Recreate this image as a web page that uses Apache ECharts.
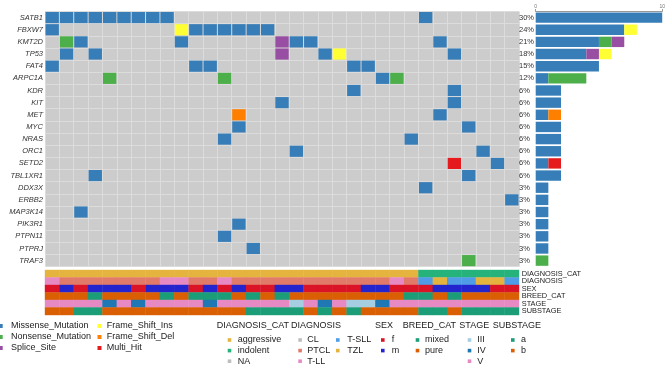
<!DOCTYPE html>
<html>
<head>
<meta charset="utf-8">
<script src="https://cdn.jsdelivr.net/npm/echarts@6/dist/echarts.min.js"></script>
<style>
  html, body { margin: 0; padding: 0; background: #fff; }
  #chart { width: 668px; height: 365px; }
</style>
</head>
<body>
<div id="chart"></div>
<script>
// oncoplot: 21 genes x 33 samples, mutation counts bar on the right, clinical tracks below

const genes = ["SATB1", "FBXW7", "KMT2D", "TP53", "FAT4", "ARPC1A", "KDR", "KIT", "MET", "MYC",
  "NRAS", "ORC1", "SETD2", "TBL1XR1", "DDX3X", "ERBB2", "MAP3K14", "PIK3R1", "PTPN11", "PTPRJ", "TRAF3"];
const samples = ["S01", "S02", "S03", "S04", "S05", "S06", "S07", "S08", "S09", "S10", "S11",
  "S12", "S13", "S14", "S15", "S16", "S17", "S18", "S19", "S20", "S21", "S22",
  "S23", "S24", "S25", "S26", "S27", "S28", "S29", "S30", "S31", "S32", "S33"];

const mutationTypes = ["Missense_Mutation", "Nonsense_Mutation", "Splice_Site",
  "Frame_Shift_Ins", "Frame_Shift_Del", "Multi_Hit"];
const mutationColors = ["#377EB8", "#4DAF4A", "#984EA3", "#FFFF33", "#FF7F00", "#E41A1C"];

const MS = "Missense_Mutation", NS = "Nonsense_Mutation", SP = "Splice_Site";
const FI = "Frame_Shift_Ins", FD = "Frame_Shift_Del", MH = "Multi_Hit";

// [gene, sample index, variant type]
const mutationCells = [
  ["SATB1", 0, MS], ["SATB1", 1, MS], ["SATB1", 2, MS], ["SATB1", 3, MS], ["SATB1", 4, MS],
  ["SATB1", 5, MS], ["SATB1", 6, MS], ["SATB1", 7, MS], ["SATB1", 8, MS], ["SATB1", 26, MS],
  ["FBXW7", 0, MS], ["FBXW7", 9, FI], ["FBXW7", 10, MS], ["FBXW7", 11, MS], ["FBXW7", 12, MS],
  ["FBXW7", 13, MS], ["FBXW7", 14, MS], ["FBXW7", 15, MS],
  ["KMT2D", 1, NS], ["KMT2D", 2, MS], ["KMT2D", 9, MS], ["KMT2D", 16, SP], ["KMT2D", 17, MS],
  ["KMT2D", 18, MS], ["KMT2D", 27, MS],
  ["TP53", 1, MS], ["TP53", 3, MS], ["TP53", 16, SP], ["TP53", 19, MS], ["TP53", 20, FI], ["TP53", 28, MS],
  ["FAT4", 0, MS], ["FAT4", 10, MS], ["FAT4", 11, MS], ["FAT4", 21, MS], ["FAT4", 22, MS],
  ["ARPC1A", 4, NS], ["ARPC1A", 12, NS], ["ARPC1A", 23, MS], ["ARPC1A", 24, NS],
  ["KDR", 21, MS], ["KDR", 28, MS],
  ["KIT", 16, MS], ["KIT", 28, MS],
  ["MET", 13, FD], ["MET", 27, MS],
  ["MYC", 13, MS], ["MYC", 29, MS],
  ["NRAS", 12, MS], ["NRAS", 25, MS],
  ["ORC1", 17, MS], ["ORC1", 30, MS],
  ["SETD2", 28, MH], ["SETD2", 31, MS],
  ["TBL1XR1", 3, MS], ["TBL1XR1", 29, MS],
  ["DDX3X", 26, MS],
  ["ERBB2", 32, MS],
  ["MAP3K14", 2, MS],
  ["PIK3R1", 13, MS],
  ["PTPN11", 12, MS],
  ["PTPRJ", 14, MS],
  ["TRAF3", 29, NS]
];

// clinical annotation tracks, one value per sample
const trackNames = ["DIAGNOSIS_CAT", "DIAGNOSIS", "SEX", "BREED_CAT", "STAGE", "SUBSTAGE"];

const diagnosisCat = ["aggressive", "aggressive", "aggressive", "aggressive", "aggressive", "aggressive",
  "aggressive", "aggressive", "aggressive", "aggressive", "aggressive", "aggressive", "aggressive",
  "aggressive", "aggressive", "aggressive", "aggressive", "aggressive", "aggressive", "aggressive",
  "aggressive", "aggressive", "aggressive", "aggressive", "aggressive", "aggressive",
  "indolent", "indolent", "indolent", "indolent", "indolent", "indolent", "indolent"];
const diagnosis = ["T-LL", "PTCL", "PTCL", "PTCL", "PTCL", "PTCL", "PTCL", "PTCL", "T-LL", "T-LL",
  "PTCL", "PTCL", "T-LL", "PTCL", "PTCL", "PTCL", "PTCL", "PTCL", "PTCL", "PTCL", "PTCL", "PTCL",
  "PTCL", "PTCL", "T-LL", "PTCL", "T-SLL", "TZL", "T-SLL", "T-SLL", "TZL", "TZL", "T-SLL"];
const sex = ["f", "m", "f", "m", "m", "m", "f", "m", "m", "m", "f", "m", "f", "m", "f", "f", "m",
  "m", "f", "f", "f", "f", "m", "m", "f", "f", "f", "m", "m", "m", "m", "f", "f"];
const breedCat = ["pure", "pure", "pure", "mixed", "pure", "pure", "pure", "pure", "mixed", "pure",
  "mixed", "mixed", "mixed", "pure", "mixed", "pure", "mixed", "pure", "pure", "pure", "pure", "pure",
  "pure", "pure", "pure", "mixed", "mixed", "pure", "mixed", "pure", "pure", "pure", "pure"];
const stage = ["V", "V", "V", "V", "IV", "V", "IV", "V", "V", "V", "V", "IV", "V", "V", "V", "V", "V",
  "III", "V", "IV", "V", "III", "III", "IV", "V", "V", "V", "V", "V", "V", "V", "V", "V"];
const substage = ["b", "b", "a", "a", "b", "b", "b", "b", "b", "b", "b", "b", "b", "b", "a", "a", "a",
  "a", "b", "a", "b", "a", "b", "b", "b", "b", "a", "a", "b", "a", "a", "a", "a"];

const diagnosisCatLevels = ["aggressive", "indolent", "NA"];
const diagnosisCatColors = ["#E5B43F", "#25B27B", "#BEBEBE"];
const diagnosisLevels = ["CL", "PTCL", "T-LL", "T-SLL", "TZL"];
const diagnosisColors = ["#BEBEBE", "#E27A69", "#E78AC3", "#4F9DE6", "#E5B43F"];
const sexLevels = ["f", "m"];
const sexColors = ["#DA1426", "#2424CE"];
const breedCatLevels = ["mixed", "pure"];
const breedCatColors = ["#1B9E77", "#D95F02"];
const stageLevels = ["III", "IV", "V"];
const stageColors = ["#A6CEE3", "#1F78B4", "#E78AC3"];
const substageLevels = ["a", "b"];
const substageColors = ["#1B9E77", "#D95F02"];

const tracks = [
  [diagnosisCat, diagnosisCatLevels, diagnosisCatColors],
  [diagnosis, diagnosisLevels, diagnosisColors],
  [sex, sexLevels, sexColors],
  [breedCat, breedCatLevels, breedCatColors],
  [stage, stageLevels, stageColors],
  [substage, substageLevels, substageColors]
];

const FONT = "Liberation Sans, Arial, Helvetica, sans-serif";

// ---- derived data ----
const matrixData = mutationCells.map(([g, s, t]) =>
  [s, genes.indexOf(g), mutationTypes.indexOf(t)]);

const perGene = genes.map(g => mutationCells.filter(c => c[0] === g).length);

const barSeries = mutationTypes.map((t, ti) => ({
  name: t,
  type: "bar",
  stack: "count",
  xAxisIndex: 1,
  yAxisIndex: 1,
  barWidth: 10.4,
  itemStyle: { color: mutationColors[ti] },
  data: genes.map(g => mutationCells.filter(c => c[0] === g && c[2] === t).length),
  silent: true
}));

const trackData = [];
tracks.forEach(([vals, levels, colors], ti) => {
  vals.forEach((v, si) => trackData.push([si, ti, colors[levels.indexOf(v)]]));
});

function rectItem(api, fill, inset) {
  const p = api.coord([api.value(0), api.value(1)]);
  const s = api.size([1, 1]);
  return {
    type: "rect",
    shape: { x: p[0] - s[0] / 2 + inset, y: p[1] - s[1] / 2 + inset,
             width: s[0] - 2 * inset, height: s[1] - 2 * inset },
    style: { fill }
  };
}

// ---- legends (drawn with graphic) ----
const graphics = [];
function legendText(text, x, y) {
  graphics.push({ type: "text", x, y,
    style: { text, font: "9px " + FONT, fill: "#222", verticalAlign: "middle" } });
}
function legendBox(color, x, y, size) {
  graphics.push({ type: "rect", shape: { x, y: y - size / 2, width: size, height: size },
    style: { fill: color } });
}

const mutLegendRows = [326, 337, 348];
mutationTypes.forEach((t, i) => {
  const col = Math.floor(i / 3), row = i % 3;
  const bx = col === 0 ? -1.3 : 97.5;
  const tx = col === 0 ? 11 : 106.7;
  legendBox(mutationColors[i], bx, mutLegendRows[row], 4);
  legendText(t, tx, mutLegendRows[row]);
});

const annLegendLayout = [
  { title: 216.7, cols: [[227.7, 237.7]] },
  { title: 291, cols: [[298.3, 307.3], [336, 347.3]] },
  { title: 375, cols: [[381, 391.7]] },
  { title: 402.7, cols: [[415.7, 425]] },
  { title: 459.3, cols: [[467.7, 477.3]] },
  { title: 492.7, cols: [[511, 521]] }
];
const itemRows = [340, 350.6, 361.2];
tracks.forEach(([vals, levels, colors], ti) => {
  const lay = annLegendLayout[ti];
  legendText(trackNames[ti], lay.title, 326);
  levels.forEach((lv, li) => {
    const c = lay.cols[Math.floor(li / 3)];
    const y = itemRows[li % 3];
    legendBox(colors[li], c[0], y, 3.6);
    legendText(lv, c[1], y);
  });
});

const chart = echarts.init(document.getElementById("chart"), null, { renderer: "canvas" });

chart.setOption({
  animation: false,
  backgroundColor: "#fff",
  textStyle: { fontFamily: FONT },
  grid: [
    { left: 45, top: 11.5, width: 474, height: 255.2, show: true,
      backgroundColor: "#CCCCCC", borderWidth: 0 },
    { left: 535.7, top: 11.5, width: 130, height: 255.2 },
    { left: 45, top: 270, width: 474, height: 45 }
  ],
  xAxis: [
    { gridIndex: 0, type: "category", data: samples,
      axisLine: { show: false }, axisTick: { show: false }, axisLabel: { show: false },
      splitLine: { show: true, interval: 0, lineStyle: { color: "#DCDCDC", width: 1 } } },
    { gridIndex: 1, type: "value", min: 0, max: 10, interval: 10, position: "top",
      axisLine: { show: true, lineStyle: { color: "#999", width: 1 } },
      axisTick: { show: true, length: 2.5, lineStyle: { color: "#999" } },
      axisLabel: { fontSize: 5, margin: 2, color: "#777" },
      splitLine: { show: false } },
    { gridIndex: 2, type: "category", data: samples, show: false }
  ],
  yAxis: [
    { gridIndex: 0, type: "category", data: genes, inverse: true,
      axisLine: { show: false }, axisTick: { show: false },
      axisLabel: { interval: 0, fontSize: 7.5, fontStyle: "italic", color: "#333", margin: 2 },
      splitLine: { show: true, interval: 0, lineStyle: { color: "#DCDCDC", width: 1 } } },
    { gridIndex: 1, type: "category", data: genes, inverse: true,
      axisLine: { show: false }, axisTick: { show: false },
      axisLabel: { interval: 0, fontSize: 7.5, color: "#333", align: "left", margin: 16.7,
        formatter: (v, i) => Math.round(perGene[i] / samples.length * 100) + "%" } },
    { gridIndex: 2, type: "category", data: trackNames, inverse: true, position: "right",
      axisLine: { show: false }, axisTick: { show: false },
      axisLabel: { interval: 0, fontSize: 7.4, color: "#222", margin: 2.7 } }
  ],
  series: [
    {
      type: "custom",
      xAxisIndex: 0, yAxisIndex: 0,
      encode: { x: 0, y: 1 },
      silent: true,
      renderItem: (params, api) => rectItem(api, mutationColors[api.value(2)], 0.5),
      data: matrixData
    },
    ...barSeries,
    {
      type: "custom",
      xAxisIndex: 2, yAxisIndex: 2,
      encode: { x: 0, y: 1 },
      silent: true,
      renderItem: (params, api) => {
        const d = trackData[params.dataIndex];
        return rectItem(api, d[2], -0.2);
      },
      data: trackData.map(d => [d[0], d[1]])
    }
  ],
  graphic: graphics
});
</script>
</body>
</html>
